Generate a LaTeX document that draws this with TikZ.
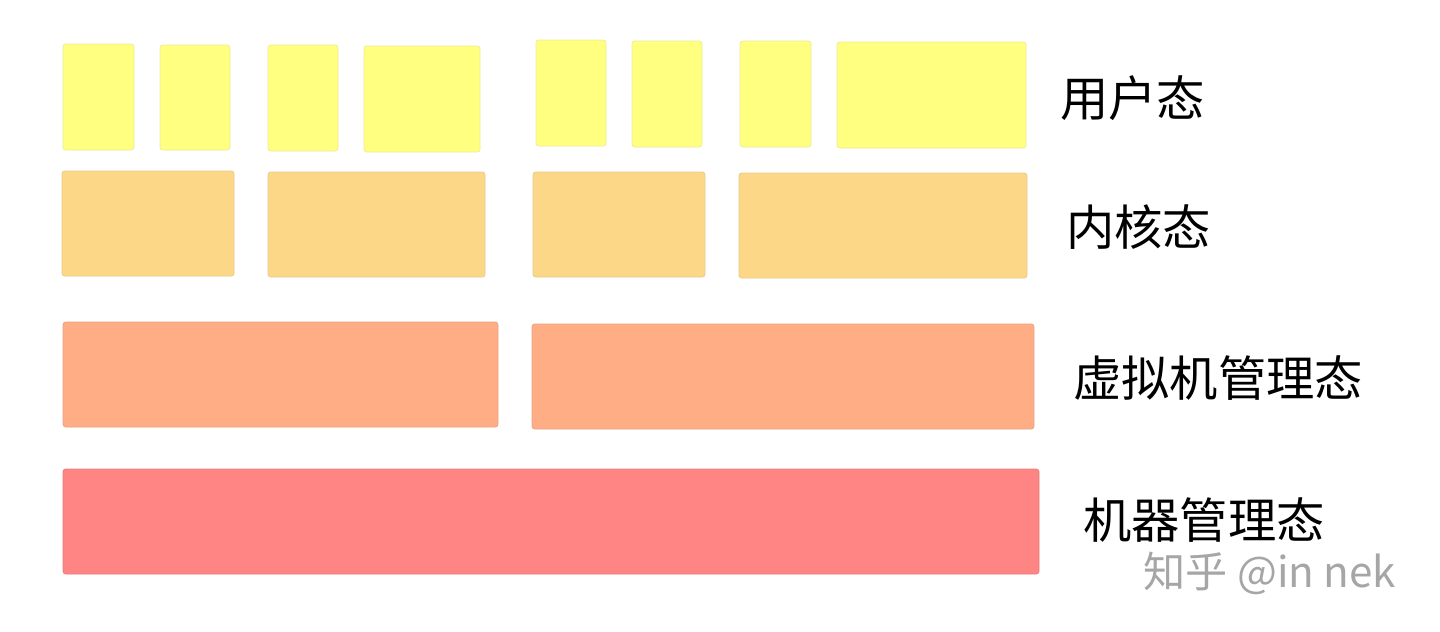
\documentclass[tikz,border=0pt]{standalone}
\usepackage{fontspec}
\newfontfamily\cjk{Noto Sans CJK SC}
\usetikzlibrary{positioning}
\definecolor{userfill}{HTML}{FFFF80}
\definecolor{userline}{HTML}{EDEA95}
\definecolor{kernfill}{HTML}{FCD787}
\definecolor{kernline}{HTML}{E8C986}
\definecolor{hypfill}{HTML}{FFAD85}
\definecolor{hypline}{HTML}{E9A284}
\definecolor{machfill}{HTML}{FF8484}
\definecolor{machline}{HTML}{E67C7C}
\tikzset{
    layerbox/.style={rectangle, rounded corners=1.5pt, inner sep=0pt,
                     line width=0.4pt},
    sz/.style 2 args={minimum width=#1*0.02cm, minimum height=#2*0.02cm},
    % Stile per livelli
    userbox/.style={layerbox, draw=userline, fill=userfill},
    kernbox/.style={layerbox, draw=kernline, fill=kernfill},
    hypbox/.style={layerbox, draw=hypline, fill=hypfill},
    machbox/.style={layerbox, draw=machline, fill=machfill},
    statelabel/.style={anchor=west, inner sep=0pt, font=\cjk\fontsize{27.5}{30}\selectfont},
    watermark/.style={anchor=west, inner sep=0pt, text=black!35, font=\cjk\fontsize{24}{26}\selectfont}
}
\begin{document}
\begin{tikzpicture}[x=0.02cm, y=-0.02cm]
  \useasboundingbox (0,0) rectangle (1440,632);
  % Nodi: user
  \node[userbox, sz={71}{106}] (u1) at (98.5,97) {};
  \node[userbox, sz={70}{105}] (u2) at (195,97.5) {};
  \node[userbox, sz={70}{106}] (u3) at (303,98) {};
  \node[userbox, sz={116}{106}] (u4) at (422,99) {};
  \node[userbox, sz={70}{106}] (u5) at (571,93) {};
  \node[userbox, sz={70}{106}] (u6) at (667,94) {};
  \node[userbox, sz={71}{106}] (u7) at (775.5,94) {};
  \node[userbox, sz={189}{106}] (u8) at (931.5,95) {};
  % kernel
  \node[kernbox, sz={172}{105}] (k1) at (148,223.5) {};
  \node[kernbox, sz={217}{105}] (k2) at (376.5,224.5) {};
  \node[kernbox, sz={172}{105}] (k3) at (619,224.5) {};
  \node[kernbox, sz={288}{105}] (k4) at (883,225.5) {};
  % hypervisor
  \node[hypbox, sz={435}{105}] (v1) at (280.5,374.5) {};
  \node[hypbox, sz={502}{105}] (v2) at (783,376.5) {};
  % machine
  \node[machbox, sz={976}{105}] (m1) at (551,521.5) {};
  % Etichette
  \node[statelabel] (luser) at (1060,98) {用户态};
  \node[statelabel] (lkern) at (1066,227) {内核态};
  \node[statelabel] (lhyp) at (1073,378) {虚拟机管理态};
  \node[statelabel] (lmach) at (1083,520) {机器管理态};
  \node[watermark] (wm) at (1143,573) {知乎 @in nek};
\end{tikzpicture}
\end{document}
